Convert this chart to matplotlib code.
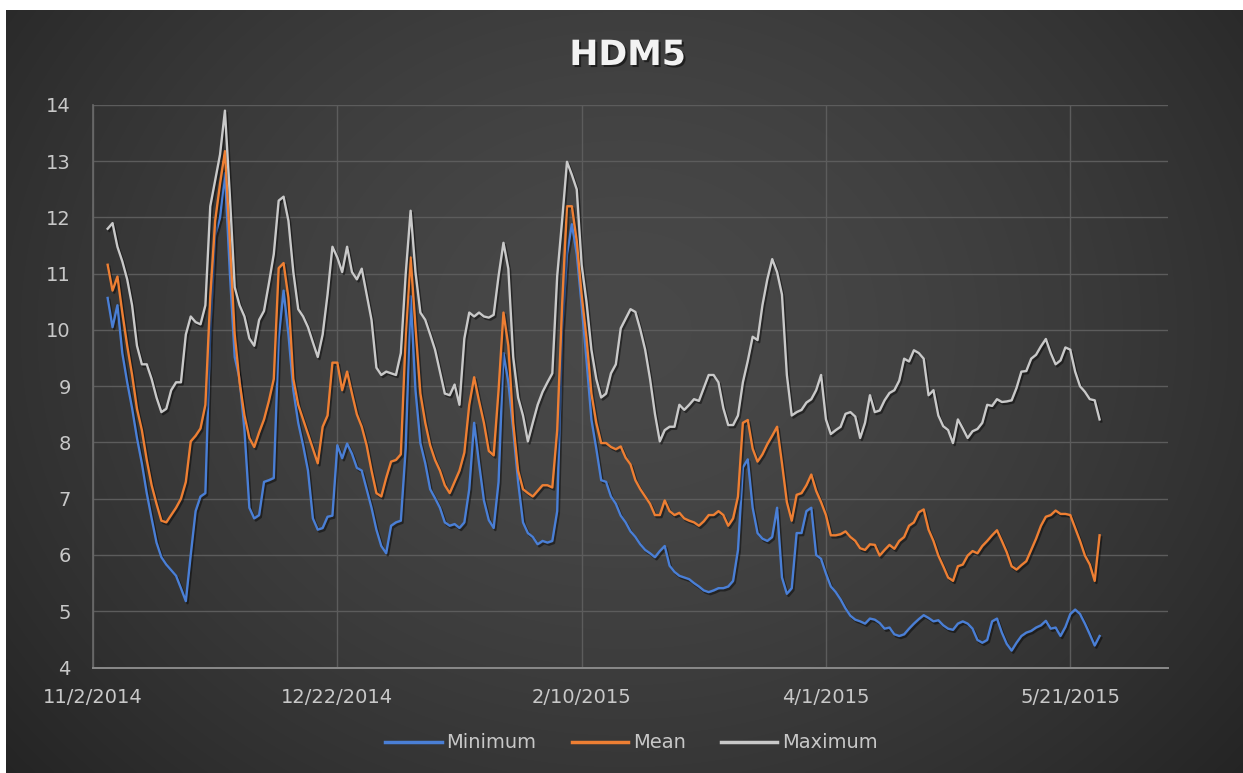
import numpy as np
import pandas as pd
import matplotlib
matplotlib.use("Agg")
import matplotlib.pyplot as plt
import matplotlib.patheffects as pe

# Daily readings, 11/5/2014 - 5/27/2015
start_date = "2014-11-05"

maximum = [
    11.8, 11.9, 11.48, 11.22, 10.9, 10.44, 9.72, 9.39, 9.39, 9.13,
    8.8, 8.54, 8.6, 8.93, 9.07, 9.07, 9.92, 10.24, 10.14, 10.1,
    10.44, 12.2, 12.66, 13.12, 13.9, 12.4, 10.76, 10.44, 10.24, 9.85,
    9.72, 10.18, 10.34, 10.83, 11.35, 12.3, 12.37, 11.94, 11.03, 10.37,
    10.24, 10.05, 9.78, 9.52, 9.92, 10.63, 11.48, 11.29, 11.03, 11.48,
    11.03, 10.9, 11.09, 10.63, 10.18, 9.33, 9.2, 9.26, 9.23, 9.2,
    9.59, 11.0, 12.12, 11.03, 10.31, 10.18, 9.92, 9.65, 9.26, 8.87,
    8.84, 9.03, 8.67, 9.85, 10.31, 10.24, 10.31, 10.24, 10.22, 10.27,
    10.96, 11.55, 11.09, 9.52, 8.8, 8.48, 8.02, 8.35, 8.67, 8.9,
    9.07, 9.23, 10.96, 11.94, 12.99, 12.76, 12.5, 11.16, 10.5, 9.65,
    9.13, 8.8, 8.87, 9.23, 9.39, 10.03, 10.2, 10.37, 10.32, 10.01,
    9.65, 9.13, 8.51, 8.02, 8.22, 8.28, 8.28, 8.67, 8.58, 8.67,
    8.77, 8.74, 8.97, 9.2, 9.2, 9.07, 8.61, 8.31, 8.31, 8.48,
    9.07, 9.45, 9.88, 9.82, 10.44, 10.9, 11.26, 11.03, 10.63, 9.2,
    8.48, 8.54, 8.58, 8.71, 8.77, 8.93, 9.2, 8.41, 8.15, 8.22,
    8.28, 8.51, 8.54, 8.46, 8.08, 8.35, 8.84, 8.54, 8.57, 8.75,
    8.88, 8.93, 9.1, 9.49, 9.44, 9.64, 9.59, 9.49, 8.84, 8.93,
    8.48, 8.29, 8.22, 7.99, 8.41, 8.25, 8.08, 8.2, 8.24, 8.35,
    8.67, 8.65, 8.77, 8.72, 8.73, 8.75, 8.97, 9.26, 9.27, 9.49,
    9.56, 9.71, 9.84, 9.59, 9.39, 9.46, 9.69, 9.65, 9.26, 9.0,
    8.9, 8.77, 8.75, 8.41,
]

mean = [
    11.16, 10.7, 10.95, 10.31, 9.72, 9.2, 8.6, 8.22, 7.69, 7.24,
    6.91, 6.61, 6.58, 6.71, 6.84, 7.0, 7.3, 8.02, 8.12, 8.25,
    8.67, 10.6, 11.94, 12.6, 13.18, 11.6, 9.92, 9.07, 8.48, 8.08,
    7.92, 8.18, 8.41, 8.74, 9.13, 11.1, 11.19, 10.57, 9.13, 8.67,
    8.41, 8.15, 7.89, 7.63, 8.28, 8.48, 9.42, 9.42, 8.93, 9.26,
    8.87, 8.5, 8.28, 7.95, 7.5, 7.1, 7.04, 7.37, 7.66, 7.69,
    7.79, 9.9, 11.29, 10.05, 8.87, 8.35, 7.95, 7.69, 7.5, 7.24,
    7.1, 7.3, 7.5, 7.82, 8.67, 9.16, 8.74, 8.35, 7.85, 7.77,
    8.93, 10.31, 9.72, 8.35, 7.5, 7.17, 7.1, 7.04, 7.14, 7.24,
    7.24, 7.2, 8.22, 10.44, 12.2, 12.2, 11.58, 10.63, 9.85, 8.87,
    8.35, 7.99, 7.99, 7.92, 7.88, 7.93, 7.73, 7.61, 7.33, 7.17,
    7.04, 6.91, 6.71, 6.71, 6.97, 6.78, 6.71, 6.75, 6.65, 6.61,
    6.58, 6.52, 6.6, 6.71, 6.71, 6.78, 6.71, 6.52, 6.65, 7.04,
    8.35, 8.4, 7.89, 7.66, 7.79, 7.97, 8.12, 8.28, 7.63, 6.94,
    6.61, 7.07, 7.1, 7.24, 7.43, 7.14, 6.94, 6.71, 6.35, 6.35,
    6.37, 6.42, 6.32, 6.25, 6.12, 6.09, 6.19, 6.18, 5.99, 6.09,
    6.18, 6.11, 6.25, 6.32, 6.52, 6.58, 6.76, 6.81, 6.45, 6.25,
    5.99, 5.8, 5.6, 5.54, 5.8, 5.83, 5.99, 6.07, 6.03, 6.16,
    6.25, 6.35, 6.44, 6.25, 6.05, 5.8, 5.74, 5.82, 5.89, 6.09,
    6.29, 6.52, 6.68, 6.71, 6.79, 6.73, 6.73, 6.71, 6.48, 6.25,
    5.99, 5.83, 5.54, 6.35,
]

minimum = [
    10.57, 10.05, 10.44, 9.59, 9.07, 8.61, 8.08, 7.63, 7.1, 6.65,
    6.22, 5.96, 5.83, 5.73, 5.63, 5.41, 5.18, 6.0, 6.78, 7.04,
    7.1, 10.0, 11.68, 12.0, 12.79, 11.03, 9.52, 9.13, 8.22, 6.84,
    6.65, 6.71, 7.3, 7.33, 7.37, 9.85, 10.7, 9.92, 8.93, 8.35,
    7.95, 7.5, 6.65, 6.45, 6.48, 6.68, 6.7, 7.95, 7.72, 7.98,
    7.8, 7.55, 7.5, 7.17, 6.84, 6.45, 6.16, 6.03, 6.52, 6.58,
    6.61, 7.9, 10.6, 8.93, 7.99, 7.63, 7.17, 7.01, 6.84, 6.58,
    6.52, 6.55, 6.48, 6.58, 7.17, 8.35, 7.63, 6.97, 6.62, 6.48,
    7.3, 9.59, 9.07, 8.22, 7.3, 6.58, 6.39, 6.32, 6.19, 6.25,
    6.22, 6.25, 6.78, 9.98, 11.35, 11.88, 11.35, 10.44, 9.46, 8.41,
    7.89, 7.33, 7.3, 7.04, 6.91, 6.7, 6.58, 6.42, 6.32, 6.19,
    6.09, 6.03, 5.96, 6.07, 6.16, 5.81, 5.7, 5.63, 5.6, 5.57,
    5.5, 5.44, 5.37, 5.34, 5.37, 5.41, 5.41, 5.44, 5.54, 6.09,
    7.56, 7.7, 6.84, 6.39, 6.29, 6.25, 6.32, 6.84, 5.6, 5.31,
    5.41, 6.39, 6.39, 6.78, 6.84, 6.0, 5.93, 5.67, 5.44, 5.34,
    5.21, 5.05, 4.92, 4.85, 4.82, 4.78, 4.87, 4.85, 4.79, 4.69,
    4.71, 4.59, 4.56, 4.59, 4.69, 4.78, 4.86, 4.93, 4.88, 4.82,
    4.84, 4.75, 4.69, 4.67, 4.78, 4.82, 4.78, 4.69, 4.49, 4.44,
    4.49, 4.82, 4.87, 4.62, 4.42, 4.3, 4.44, 4.56, 4.62, 4.65,
    4.71, 4.75, 4.83, 4.69, 4.71, 4.56, 4.72, 4.95, 5.03, 4.95,
    4.78, 4.59, 4.39, 4.56,
]

tick_dates = ["2014-11-02", "2014-12-22", "2015-02-10", "2015-04-01", "2015-05-21"]
x_limits = ["2014-11-02", "2015-06-10"]
y_ticks = [4, 5, 6, 7, 8, 9, 10, 11, 12, 13, 14]

series = [
    ("Minimum", minimum, "#4a7fd6"),
    ("Mean", mean, "#ee7f33"),
    ("Maximum", maximum, "#c9c9c9"),
]

dates = pd.date_range(start_date, periods=len(minimum), freq="D")

W, H = 1243, 773
fig = plt.figure(figsize=(W / 100, H / 100), dpi=100, facecolor="white")

# dark chart panel with a soft radial glow
bg = fig.add_axes([6 / W, 0, 1 - 6 / W, (H - 10) / H], zorder=0)
gx, gy = np.meshgrid(np.linspace(0, 1, 600), np.linspace(0, 1, 400))
r = np.sqrt(((gx - 0.5) / 0.62) ** 2 + ((gy - 0.42) / 0.85) ** 2)
shade = 0.285 - 0.13 * np.clip(r, 0, 1.2) ** 1.6
bg.imshow(np.dstack([shade] * 3), aspect="auto", extent=[0, 1, 0, 1],
          origin="upper", interpolation="bilinear")
bg.set_axis_off()

ax = fig.add_axes([93 / W, 1 - 667.5 / H, (1168 - 93) / W, (667.5 - 105) / H], zorder=1)
ax.set_facecolor("none")

shadow = [pe.SimpleLineShadow(offset=(1.2, -1.5), shadow_color="black", alpha=0.45),
          pe.Normal()]
for name, vals, color in series:
    ax.plot(dates, vals, color=color, lw=1.7, label=name, path_effects=shadow,
            solid_joinstyle="round", zorder=3)

ax.set_ylim(4, 14)
ax.set_yticks(y_ticks)
ax.set_xlim(pd.Timestamp(x_limits[0]), pd.Timestamp(x_limits[1]))
ticks = [pd.Timestamp(d) for d in tick_dates]
ax.set_xticks(ticks)
ax.set_xticklabels([f"{t.month}/{t.day}/{t.year}" for t in ticks])

ax.grid(True, axis="both", color="#5c5c5c", lw=1.0, zorder=1)
for side in ["top", "right"]:
    ax.spines[side].set_visible(False)
ax.spines["bottom"].set_color("#8a8a8a")
ax.spines["bottom"].set_linewidth(1.4)
ax.spines["left"].set_color("#6a6a6a")
ax.spines["left"].set_linewidth(1.2)

ax.tick_params(axis="both", length=0, labelcolor="#c8c8c8", labelsize=14)
ax.tick_params(axis="y", pad=16)
ax.tick_params(axis="x", pad=15)

fig.text(0.505, 1 - 55 / H, "HDM5", ha="center", va="center", fontsize=25,
         fontweight="bold", color="#f2f2f2",
         path_effects=[pe.withSimplePatchShadow(offset=(1.5, -1.5),
                                                shadow_rgbFace="black", alpha=0.5)])

leg = fig.legend(loc="center", bbox_to_anchor=(0.508, 1 - 743 / H), ncol=3,
                 frameon=False, fontsize=14, handlelength=2.9, handletextpad=0.25,
                 columnspacing=1.8)
for t in leg.get_texts():
    t.set_color("#c8c8c8")
for h in leg.get_lines():
    h.set_linewidth(2.5)
    h.set_path_effects([])

fig.savefig("out.png", dpi=100, facecolor="white")
